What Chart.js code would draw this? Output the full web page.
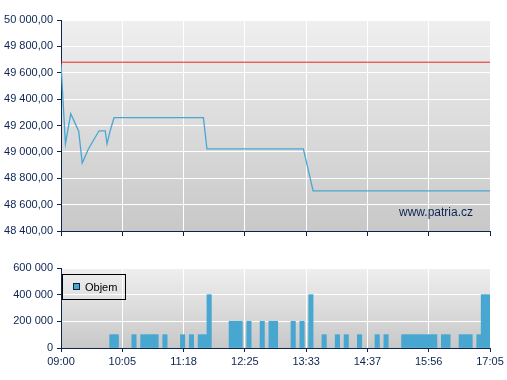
<!DOCTYPE html>
<html>
<head>
<meta charset="utf-8">
<script src="https://cdn.jsdelivr.net/npm/chart.js@4"></script>
<style>
  body{margin:0;background:#fff;width:507px;height:380px;overflow:hidden;position:relative}
  canvas{position:absolute;left:0}
  #price{top:0}
  #vol{top:250px}
</style>
</head>
<body>
<canvas id="price" width="507" height="250"></canvas>
<canvas id="vol" width="507" height="130"></canvas>
<script>
// osa x: minuty od 09:00, popisky rovnomerne rozlozene
var dayLen = 485
var timeLabels = ["09:00","10:05","11:18","12:25","13:33","14:37","15:56","17:05"]

// cena indexu (minuty, hodnota)
var priceX = [0, 5, 11, 20, 24, 31, 43, 50, 52, 56, 60, 161, 165, 274, 285, 485]
var priceY = [49670, 49061, 49289, 49157, 48916, 49022, 49160, 49160, 49061, 49170, 49259, 49259, 49022, 49022, 48705, 48705]
var prevClose = 49680

// objem po 5 minutach (index slotu, hodnota)
var volSlot = [11,12,16,18,19,20,21,23,27,29,31,32,33,38,39,40,42,45,47,48,52,54,56,59,62,64,67,71,73,77,78,79,80,81,82,83,84,86,87,90,91,92,94,95,96]
var volVal  = [100000,100000,100000,100000,100000,100000,100000,100000,100000,100000,100000,100000,400000,200000,200000,200000,200000,200000,200000,200000,200000,200000,400000,100000,100000,100000,100000,100000,100000,100000,100000,100000,100000,100000,100000,100000,100000,100000,100000,100000,100000,100000,100000,400000,400000]

var priceTicks = {min: 48400, max: 50000, step: 200}
var volTicks = {min: 0, max: 600000, step: 200000}

var navy = "#0c2452"
Chart.defaults.font.family = "'Liberation Sans', Arial, sans-serif"
Chart.defaults.font.size = 11
Chart.defaults.color = navy

function fmt(v, dec){ // 49 200,00
    var s = v.toFixed(dec).split(".")
    var int = s[0].replace(/\B(?=(\d{3})+(?!\d))/g, " ")
    return s.length > 1 ? int + "," + s[1] : int
}

const bgPlugin = {
    id: 'plotBg',
    beforeDraw: (chart) => {
        const {ctx, chartArea: a} = chart
        const g = ctx.createLinearGradient(0, a.top, 0, a.bottom)
        g.addColorStop(0, '#efefef')
        g.addColorStop(1, '#c8c8c8')
        ctx.save()
        ctx.fillStyle = g
        ctx.fillRect(a.left, a.top, a.right - a.left, a.bottom - a.top)
        ctx.restore()
    }
}

const watermark = {
    id: 'watermark',
    afterDatasetsDraw: (chart) => {
        const {ctx, chartArea: a} = chart
        ctx.save()
        ctx.font = "12px 'Liberation Sans', Arial, sans-serif"
        ctx.fillStyle = navy
        ctx.textAlign = 'right'
        ctx.textBaseline = 'middle'
        ctx.fillText("www.patria.cz", a.right - 17, a.bottom - 18)
        ctx.restore()
    }
}

const boxLegend = {
    id: 'boxLegend',
    afterDraw: (chart) => {
        const {ctx, chartArea: a} = chart
        const ds = chart.data.datasets[0]
        ctx.save()
        ctx.strokeStyle = '#000'
        ctx.lineWidth = 1
        ctx.strokeRect(a.left + 1.5, a.top + 6.5, 63, 25)
        ctx.fillStyle = ds.backgroundColor
        ctx.fillRect(a.left + 12, a.top + 15, 7, 7)
        ctx.strokeStyle = '#102040'
        ctx.strokeRect(a.left + 12.5, a.top + 15.5, 6, 6)
        ctx.fillStyle = '#000'
        ctx.font = "11px 'Liberation Sans', Arial, sans-serif"
        ctx.textBaseline = 'middle'
        ctx.fillText(ds.label, a.left + 24, a.top + 19.5)
        ctx.restore()
    }
}

function xAxis(showLabels, h){
    return {
        type: 'linear', min: 0, max: dayLen, offset: false,
        afterBuildTicks: (s) => { s.ticks = timeLabels.map((t, i) => ({value: i * dayLen / 7})) },
        afterFit: (s) => { s.height = h },
        ticks: {display: showLabels, autoSkip: false, maxRotation: 0, padding: 3,
                callback: (v, i) => timeLabels[i]},
        grid: {color: '#ffffff', tickColor: navy, tickLength: showLabels ? 4 : 5, offset: false, drawOnChartArea: true},
        border: {color: navy, width: 1}
    }
}

function yAxis(t, dec){
    return {
        min: t.min, max: t.max,
        afterFit: (s) => { s.width = 61 },
        ticks: {stepSize: t.step, padding: 4, callback: (v) => fmt(v, dec)},
        grid: {color: '#ffffff', tickColor: navy, tickLength: 4},
        border: {color: navy, width: 1}
    }
}

var priceChart = new Chart(document.getElementById('price'), {
    type: 'line',
    data: {
        datasets: [{
            label: 'PX',
            data: priceX.map((x, i) => ({x: x, y: priceY[i]})),
            borderColor: '#48a6d3',
            borderWidth: 1.3,
            pointRadius: 0,
            tension: 0
        }, {
            label: 'predchozi',
            data: [{x: 0, y: prevClose}, {x: dayLen, y: prevClose}],
            borderColor: '#e82424',
            borderWidth: 1,
            pointRadius: 0
        }]
    },
    options: {
        responsive: false, animation: false, devicePixelRatio: 1,
        layout: {padding: {top: 20, right: 17, left: 0, bottom: 0}},
        plugins: {legend: {display: false}, tooltip: {enabled: false}},
        scales: {x: xAxis(false, 19), y: yAxis(priceTicks, 2)}
    },
    plugins: [bgPlugin, watermark]
})

var volChart = new Chart(document.getElementById('vol'), {
    type: 'bar',
    data: {
        datasets: [{
            label: 'Objem',
            data: volSlot.map((s, i) => ({x: s * 5 + 2.5, y: volVal[i]})),
            backgroundColor: '#47a7d0',
            borderWidth: 0,
            barPercentage: 1,
            categoryPercentage: 1
        }]
    },
    options: {
        responsive: false, animation: false, devicePixelRatio: 1,
        layout: {padding: {top: 18, right: 17, left: 0, bottom: 0}},
        plugins: {legend: {display: false}, tooltip: {enabled: false}},
        scales: {x: xAxis(true, 32), y: yAxis(volTicks, 0)}
    },
    plugins: [bgPlugin, boxLegend]
})
</script>
</body>
</html>
